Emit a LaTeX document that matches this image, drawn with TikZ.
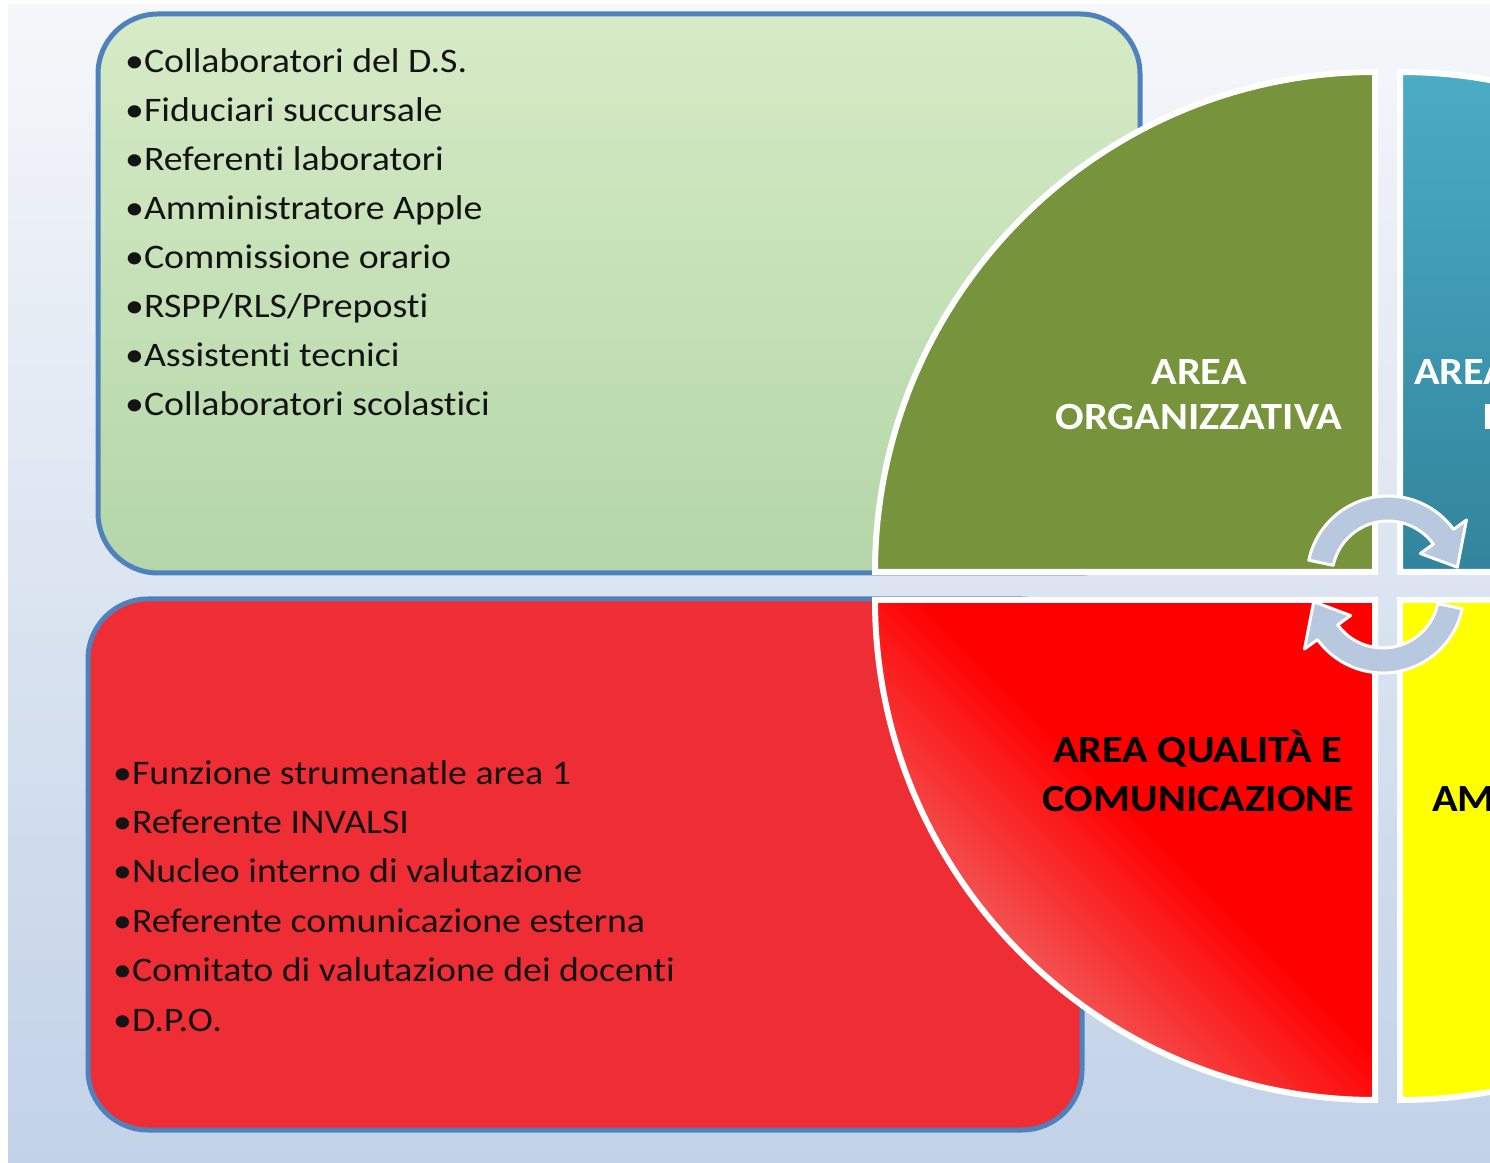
\documentclass[tikz,border=0pt]{standalone}
\usepackage{fontspec}
\setmainfont{Carlito}[FakeStretch=1.1, RawFeature={-liga}]
\definecolor{bgtop}{HTML}{F5F7FA}
\definecolor{bgbot}{HTML}{C2D2E8}
\definecolor{gboxtop}{HTML}{D6EBC6}
\definecolor{gboxbot}{HTML}{B4D6A8}
\definecolor{boxblue}{HTML}{4F81BD}
\definecolor{boxred}{HTML}{EF2D35}
\definecolor{qgreen}{HTML}{77933C}
\definecolor{qtealtop}{HTML}{4BACC6}
\definecolor{qtealbot}{HTML}{31849B}
\definecolor{qred}{HTML}{FF0000}
\definecolor{qredlight}{HTML}{F25A5A}
\definecolor{qyellow}{HTML}{FFFF00}
\definecolor{arrowfill}{HTML}{B8C8DE}
\tikzset{
  listbox/.style={draw=boxblue, line width=5pt, rounded corners=60pt},
  quad/.style={draw=white, line width=6pt, line join=miter},
  listtext/.style={font=\fontsize{34.4}{40}\selectfont, anchor=base west, inner sep=0pt, text=black!92},
  quadtext/.style={font=\bfseries\fontsize{38.5}{44}\selectfont, anchor=base, inner sep=0pt},
  arrowshape/.style={fill=arrowfill, draw=white, line width=3pt, line join=round},
  pics/cyclearrow/.style={code={
    \path[arrowshape] (168:81pt) arc[start angle=168, end angle=36, radius=81pt]
      -- (36:97pt) -- (8:70pt) -- (36:40pt) -- (36:56pt)
      arc[start angle=36, end angle=168, radius=56pt] -- cycle;
  }},
}
\begin{document}
\begin{tikzpicture}[x=1pt, y=1pt]
\useasboundingbox (0,0) rectangle (1490,1162);
\clip (0,0) rectangle (1490,1162);
% background
\fill[white] (0,0) rectangle (1490,1162);
\shade[top color=bgtop, bottom color=bgbot] (8,0) rectangle (1490,1157);
% list boxes
\shadedraw[listbox, top color=gboxtop, bottom color=gboxbot] (98,589) rectangle (1140,1148);
\filldraw[listbox, fill=boxred] (88,32) rectangle (1082,563);
% quadrants
\filldraw[quad, fill=qgreen] (1375,590) -- (1375,1090) arc[start angle=90, end angle=180, radius=500pt] -- cycle;
\shadedraw[quad, top color=qtealtop, bottom color=qtealbot] (1400,590) -- (1900,590) arc[start angle=0, end angle=90, radius=500pt] -- cycle;
\begin{scope}
  \clip (1375,562) -- (875,562) arc[start angle=180, end angle=270, radius=500pt] -- cycle;
  \fill[qred] (870,55) rectangle (1380,570);
  \begin{scope}[shift={(1375,562)}, rotate=-45]
    \foreach \i in {0,...,49} {
      \pgfmathsetmacro{\pct}{100-\i*100/49}
      \fill[qred!\pct!qredlight] (-600,{-320-\i*4}) rectangle (600,{-324.5-\i*4});
    }
    \fill[qredlight] (-600,-515) rectangle (600,-560);
  \end{scope}
\end{scope}
\draw[quad] (1375,562) -- (875,562) arc[start angle=180, end angle=270, radius=500pt] -- cycle;
\filldraw[quad, fill=qyellow] (1400,562) -- (1400,62) arc[start angle=270, end angle=360, radius=500pt] -- cycle;
% green list
\node[listtext] (g1) at (125,1089) {•Collaboratori del D.S.};
\node[listtext] (g2) at (125,1040) {•Fiduciari succursale};
\node[listtext] (g3) at (125,991) {•Referenti laboratori};
\node[listtext] (g4) at (125,942) {•Amministratore Apple};
\node[listtext] (g5) at (125,893) {•Commissione orario};
\node[listtext] (g6) at (125,844) {•RSPP/RLS/Preposti};
\node[listtext] (g7) at (125,795) {•Assistenti tecnici};
\node[listtext] (g8) at (125,746) {•Collaboratori scolastici};
% red list
\node[listtext] (r1) at (113,377) {•Funzione strumenatle area 1};
\node[listtext] (r2) at (113,328) {•Referente INVALSI};
\node[listtext] (r3) at (113,279) {•Nucleo interno di valutazione};
\node[listtext] (r4) at (113,230) {•Referente comunicazione esterna};
\node[listtext] (r5) at (113,181) {•Comitato di valutazione dei docenti};
\node[listtext] (r6) at (113,131) {•D.P.O.};
% quadrant texts
\node[quadtext, text=white] (o1) at (1199,777) {AREA};
\node[quadtext, text=white] (o2) at (1199,732) {ORGANIZZATIVA};
\node[quadtext, text=white, anchor=base west] (d1) at (1414,777) {AREA DIDATTICA E};
\node[quadtext, text=white, anchor=base west] (d2) at (1482,732) {INCLUSIONE};
\node[quadtext, text=black] (q1) at (1197.5,399) {AREA QUALITÀ E};
\node[quadtext, text=black] (q2) at (1198.5,350) {COMUNICAZIONE};
\node[quadtext, text=black, anchor=base west] (a2) at (1432,350) {AMMINISTRATIVA};
% cycle arrows
\pic at (1388,585) {cyclearrow};
\pic[rotate=180] at (1383,570) {cyclearrow};
\end{tikzpicture}
\end{document}
